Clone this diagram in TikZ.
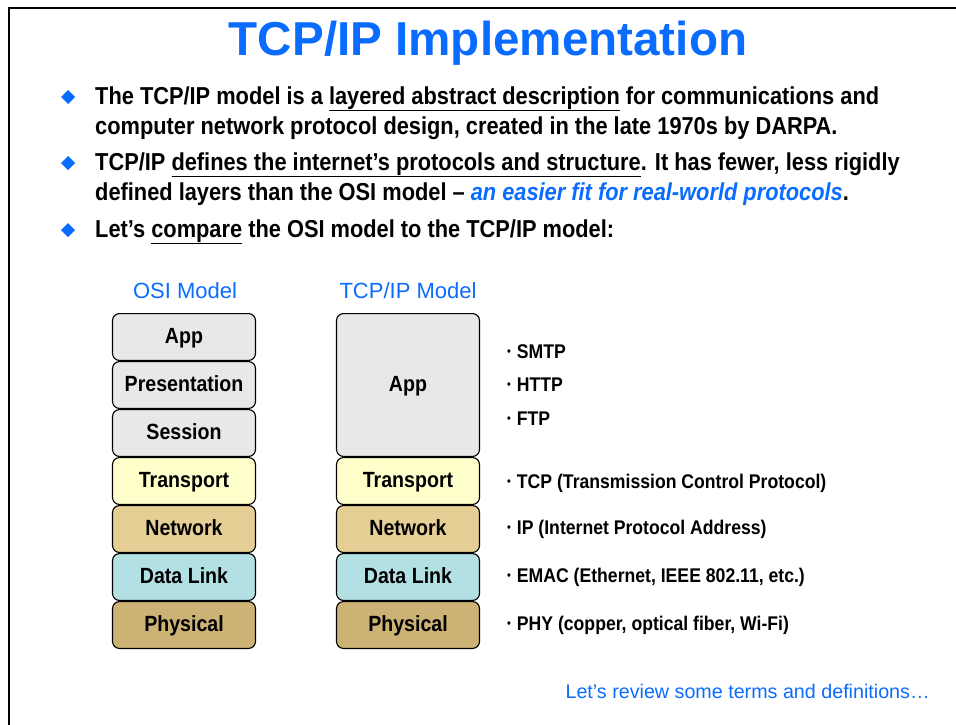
\documentclass[tikz,border=0pt]{standalone}
\usepackage{fontspec}
\setmainfont{Liberation Sans}
\newfontfamily\condfont{Liberation Sans}[FakeStretch=0.89]
\usetikzlibrary{positioning}

\definecolor{slideblue}{RGB}{10,108,255}
\definecolor{appgray}{RGB}{232,232,232}
\definecolor{transyellow}{RGB}{255,255,204}
\definecolor{nettan}{RGB}{229,207,148}
\definecolor{linkblue}{RGB}{179,224,227}
\definecolor{phybrown}{RGB}{204,178,116}

\newcommand{\protodot}{\raisebox{2.5pt}{\fontsize{12pt}{12pt}\selectfont•}\hspace{6pt}}

\begin{document}
\begin{tikzpicture}[x=1pt, y=-1pt,
  layer/.style={draw, line width=1.1pt, rounded corners=7pt, minimum width=143pt,
    minimum height=46.9pt, inner sep=0pt, text height=16pt, text depth=4pt,
    font=\condfont\bfseries\fontsize{22pt}{22pt}\selectfont},
  bodytext/.style={anchor=base west, inner sep=0pt,
    font=\condfont\bfseries\fontsize{24.5pt}{24.5pt}\selectfont},
  listtext/.style={anchor=base west, inner sep=0pt,
    font=\condfont\bfseries\fontsize{19.8pt}{19.8pt}\selectfont},
  modellabel/.style={anchor=base, inner sep=0pt, text=slideblue,
    font=\fontsize{22pt}{22pt}\selectfont}]
  \useasboundingbox (0,0) rectangle (956,725);

  % Marco
  \draw [line width=2pt] (8.5,725) -- (8.5,8.5) -- (956,8.5);

  % Titulo
  \node[anchor=base, inner sep=0pt, text=slideblue, font=\bfseries\fontsize{47.6pt}{47.6pt}\selectfont] (title) at (488,56) {TCP/IP Implementation};

  % Puntos
  \foreach \y in {104,170,237}
    \fill [slideblue] (68,\y-14) -- (75,\y-7) -- (68,\y) -- (61,\y-7) -- cycle;
  \node[bodytext] (linea) at (95,104) {The TCP/IP model is a \underline{layered abstract description} for communications and};
  \node[bodytext] (lineb) at (95,134) {computer network protocol design, created in the late 1970s by DARPA.};
  \node[bodytext] (linec) at (95,170) {TCP/IP \underline{defines the internet’s protocols and structure}. It has fewer, less rigidly};
  \node[bodytext] (lined) at (95,200) {defined layers than the OSI model – {\color{slideblue}\itshape an easier fit for real-world protocols}.};
  \node[bodytext] (linee) at (95,237) {Let’s \underline{compare} the OSI model to the TCP/IP model:};

  % Modelo OSI
  \node[modellabel] (osilabel) at (185,298) {OSI Model};
  \node[layer, fill=appgray] (osiapp) at (184,337) {App};
  \node[layer, fill=appgray, below=0pt of osiapp] (osipres) {Presentation};
  \node[layer, fill=appgray, below=0pt of osipres] (osises) {Session};
  \node[layer, fill=transyellow, below=0pt of osises] (ositrans) {Transport};
  \node[layer, fill=nettan, below=0pt of ositrans] (osinet) {Network};
  \node[layer, fill=linkblue, below=0pt of osinet] (osilink) {Data Link};
  \node[layer, fill=phybrown, below=0pt of osilink] (osiphy) {Physical};

  % Modelo TCP/IP
  \node[modellabel] (tcplabel) at (408,298) {TCP/IP Model};
  \node[layer, fill=appgray, minimum height=142.9pt] (tcpapp) at (408,385) {App};
  \node[layer, fill=transyellow, below=0pt of tcpapp] (tcptrans) {Transport};
  \node[layer, fill=nettan, below=0pt of tcptrans] (tcpnet) {Network};
  \node[layer, fill=linkblue, below=0pt of tcpnet] (tcplink) {Data Link};
  \node[layer, fill=phybrown, below=0pt of tcplink] (tcpphy) {Physical};

  % Protocolos
  \node[listtext] (smtp) at (507,358) {\protodot SMTP};
  \node[listtext] (http) at (507,391) {\protodot HTTP};
  \node[listtext] (ftp) at (507,425) {\protodot FTP};
  \node[listtext] (tcp) at (507,488) {\protodot TCP (Transmission Control Protocol)};
  \node[listtext] (ip) at (507,534) {\protodot IP (Internet Protocol Address)};
  \node[listtext] (emac) at (507,582) {\protodot EMAC (Ethernet, IEEE 802.11, etc.)};
  \node[listtext] (phy) at (507,630) {\protodot PHY (copper, optical fiber, Wi-Fi)};

  % Nota final
  \node[anchor=base east, inner sep=0pt, text=slideblue, font=\fontsize{19.7pt}{19.7pt}\selectfont] (review) at (930,698) {Let’s review some terms and definitions…};
\end{tikzpicture}
\end{document}
